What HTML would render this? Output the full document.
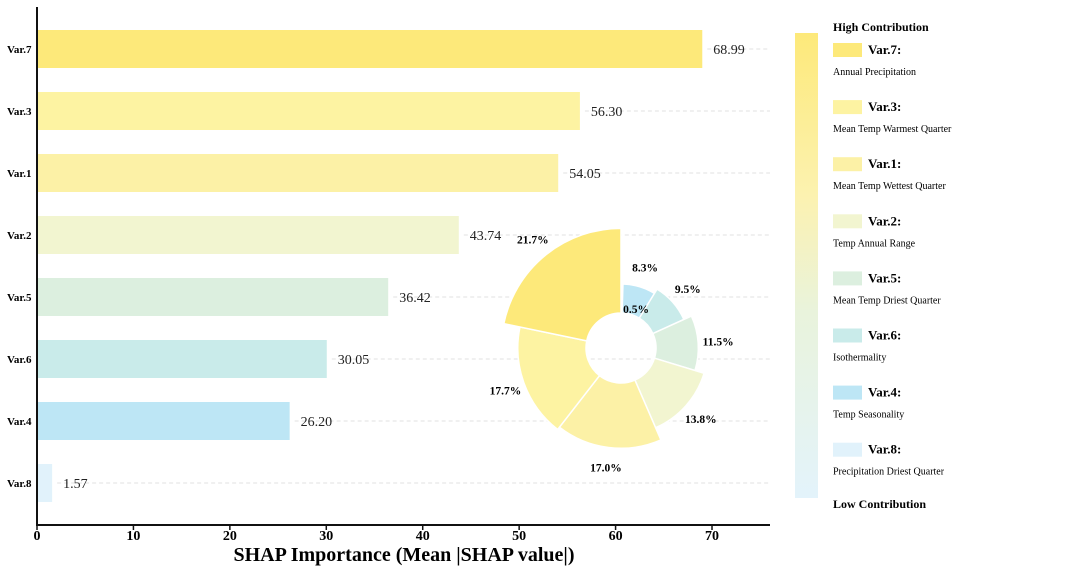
<!DOCTYPE html>
<html><head><meta charset="utf-8"><style>
body{margin:0;background:#fff;font-family:"Liberation Serif",serif;}
svg text{font-family:"Liberation Serif",serif;}
</style></head><body>
<svg width="1080" height="572" xmlns="http://www.w3.org/2000/svg">
<defs><linearGradient id="cb" x1="0" y1="0" x2="0" y2="1">
<stop offset="0" stop-color="#fde97a"/><stop offset="0.35" stop-color="#fcf2b0"/><stop offset="0.6" stop-color="#e9f3dc"/><stop offset="1" stop-color="#e3f3fb"/></linearGradient></defs>
<g id="bars"></g><g id="pie"></g><g id="pielabels"></g><g id="legend"></g>
</svg>
<script>
const labels=["Var.7","Var.3","Var.1","Var.2","Var.5","Var.6","Var.4","Var.8"];
const values=[68.99,56.30,54.05,43.74,36.42,30.05,26.20,1.57];
const colors=["#fde97a","#fdf3a2","#fcf1a6","#f2f5d0","#dcefdf","#c9ebea","#bde6f5","#e1f2fb"];
const descs=["Annual Precipitation","Mean Temp Warmest Quarter","Mean Temp Wettest Quarter","Temp Annual Range","Mean Temp Driest Quarter","Isothermality","Temp Seasonality","Precipitation Driest Quarter"];
const xticks=[0,10,20,30,40,50,60,70];
const NS="http://www.w3.org/2000/svg";
function mk(p,t,a,txt){const e=document.createElementNS(NS,t);for(const k in a)e.setAttribute(k,a[k]);if(txt!==undefined)e.textContent=txt;p.appendChild(e);return e;}
const X=v=>37+v*9.643, Y=i=>49+i*62;
const B=document.getElementById('bars');
values.forEach((v,i)=>{
 let g=mk(B,'line',{x1:X(v)+5,x2:770,y1:Y(i),y2:Y(i),stroke:'#d8d8d8','stroke-dasharray':'4,3','stroke-width':0.8});
 
 let r=mk(B,'rect',{x:X(0),y:Y(i)-19,width:X(v)-X(0),height:38,fill:colors[i]});
 
 let t=mk(B,'text',{x:X(v)+11,y:Y(i)+5,'font-size':14,fill:'#222'},v.toFixed(2));
 
 let l=mk(B,'text',{x:7,y:Y(i)+4,'font-size':11,'font-weight':'bold'},labels[i]);
 
});
let ax=mk(B,'path',{d:'M37,7V525H770',fill:'none',stroke:'#111','stroke-width':2});

xticks.forEach(t=>{mk(B,'line',{x1:X(t),x2:X(t),y1:525,y2:530,stroke:'#111','stroke-width':1.5});
 let e=mk(B,'text',{x:X(t),y:540,'font-size':14,'font-weight':'bold','text-anchor':'middle'},t);
 });
let xt=mk(B,'text',{x:404,y:561,'font-size':20,'font-weight':'bold','text-anchor':'middle'},'SHAP Importance (Mean |SHAP value|)');

// pie
const P=document.getElementById('pie'),PL=document.getElementById('pielabels');const cx=621,cy=348,ri=35;
const order=[7,6,5,4,3,2,1,0];const tot=values.reduce((a,b)=>a+b,0);
let ang=0;
order.forEach(i=>{
 const v=values[i],sp=v/tot*2*Math.PI,ro=30+v*1.3;
 const a0=ang,a1=ang+sp;ang=a1;
 const pt=(r,a)=>[cx+r*Math.sin(a),cy-r*Math.cos(a)];
 const [x0,y0]=pt(ro,a0),[x1,y1]=pt(ro,a1),[x2,y2]=pt(ri,a1),[x3,y3]=pt(ri,a0);
 const lg=sp>Math.PI?1:0;
 let w=mk(P,'path',{d:`M${x3},${y3}L${x0},${y0}A${ro},${ro} 0 ${lg} 1 ${x1},${y1}L${x2},${y2}A${ri},${ri} 0 ${lg} 0 ${x3},${y3}Z`,fill:colors[i],stroke:'#fff','stroke-width':1.5});
 
 const am=(a0+a1)/2;
 let [lx,ly]=pt(ro+20,am);if(i===7){lx=cx+15;ly=cy-39;}
 let t=mk(PL,'text',{x:lx,y:ly+4,'font-size':11.5,'font-weight':'bold','text-anchor':'middle'},(v/tot*100).toFixed(1)+'%');
 
});
// legend
const L=document.getElementById('legend');
let cb=mk(L,'rect',{x:795,y:33,width:23,height:465,fill:'url(#cb)'});

let hi=mk(L,'text',{x:833,y:31,'font-size':12,'font-weight':'bold'},'High Contribution');

let lo=mk(L,'text',{x:833,y:508,'font-size':12,'font-weight':'bold'},'Low Contribution');

labels.forEach((lab,i)=>{const y=43+i*57.1;
 let s=mk(L,'rect',{x:833,y:y,width:29,height:14,fill:colors[i]});
 
 let a=mk(L,'text',{x:868,y:y+11,'font-size':13,'font-weight':'bold'},lab+':');
 
 let d=mk(L,'text',{x:833,y:y+32,'font-size':10},descs[i]);
 
});
</script>
</body></html>
